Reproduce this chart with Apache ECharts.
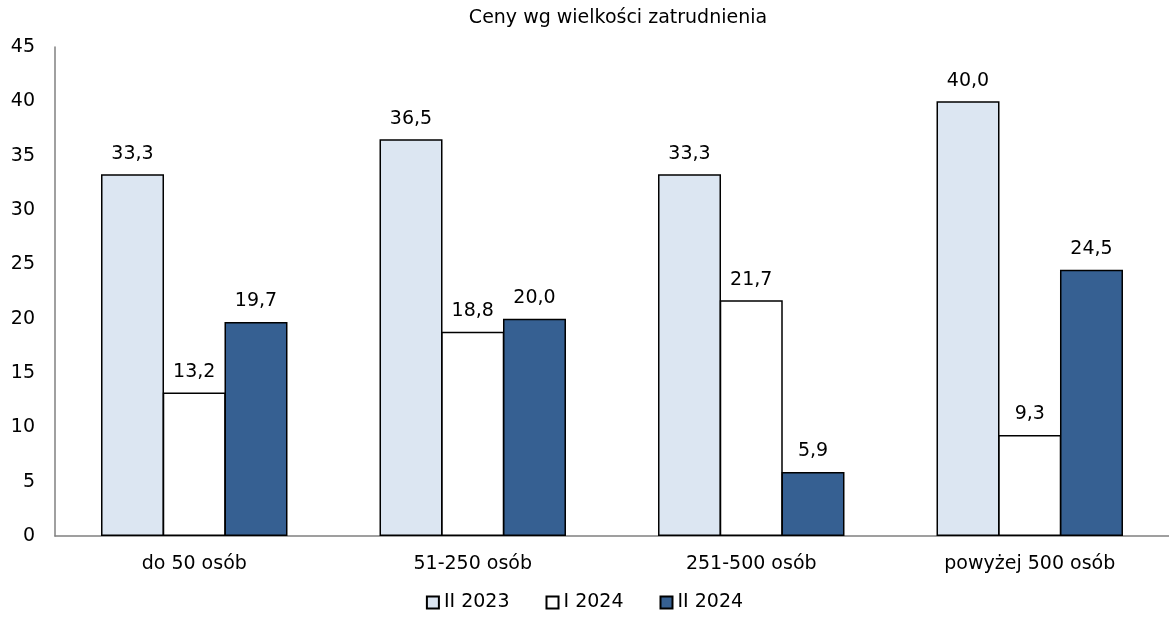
<!DOCTYPE html>
<html>
<head>
<meta charset="utf-8">
<script src="https://cdn.jsdelivr.net/npm/echarts@6/dist/echarts.min.js"></script>
<style>
  html, body { margin: 0; padding: 0; background: #fff; }
  #main { width: 1169px; height: 622px; }
</style>
</head>
<body>
<div id="main"></div>
<script>
// dane z wykresu
const categories = ["do 50 osób", "51-250 osób", "251-500 osób", "powyżej 500 osób"];
const seriesNames = ["II 2023", "I 2024", "II 2024"];
const valsII2023 = [33.3, 36.5, 33.3, 40.0];
const valsI2024 = [13.2, 18.8, 21.7, 9.3];
const valsII2024 = [19.7, 20.0, 5.9, 24.5];
const yTicks = [0, 5, 10, 15, 20, 25, 30, 35, 40, 45];

const fontFam = "DejaVu Sans, Verdana, sans-serif";
const colors = ["#dce6f2", "#ffffff", "#366092"];

const mkSeries = (name, data, color) => ({
	name: name,
	type: "bar",
	data: data,
	barWidth: 63,
	barGap: "-2%",
	itemStyle: { color: color, borderColor: "#000", borderWidth: 1.5 },
	label: {
		show: true,
		position: "top",
		distance: 11,
		color: "#000",
		fontSize: 19,
		fontFamily: fontFam,
		formatter: (p) => p.value.toFixed(1).replace(".", ",")
	}
});

const chart = echarts.init(document.getElementById("main"));
chart.setOption({
	animation: false,
	title: {
		text: "Ceny wg wielkości zatrudnienia",
		left: 613,
		textAlign: "center",
		top: 4,
		textStyle: { fontSize: 19, fontWeight: "normal", color: "#000", fontFamily: fontFam }
	},
	legend: {
		bottom: 5,
		left: "center",
		itemWidth: 12,
		itemHeight: 12,
		itemGap: 36,
		icon: "rect",
		textStyle: { fontSize: 19, color: "#000", fontFamily: fontFam },
		data: seriesNames
	},
	grid: { left: 55, width: 1116, top: 47, bottom: 86 },
	xAxis: {
		type: "category",
		data: categories,
		axisLine: { lineStyle: { color: "#808080", width: 1.5 } },
		axisTick: { show: false },
		axisLabel: { fontSize: 19, color: "#000", fontFamily: fontFam, margin: 19 }
	},
	yAxis: {
		type: "value",
		min: yTicks[0],
		max: yTicks[yTicks.length - 1],
		interval: 5,
		axisLine: { show: true, lineStyle: { color: "#808080", width: 1.5 } },
		axisTick: { show: false },
		splitLine: { show: false },
		axisLabel: { fontSize: 19, color: "#000", fontFamily: fontFam, margin: 20 }
	},
	series: [
		mkSeries(seriesNames[0], valsII2023, colors[0]),
		mkSeries(seriesNames[1], valsI2024, colors[1]),
		mkSeries(seriesNames[2], valsII2024, colors[2])
	]
});
</script>
</body>
</html>
